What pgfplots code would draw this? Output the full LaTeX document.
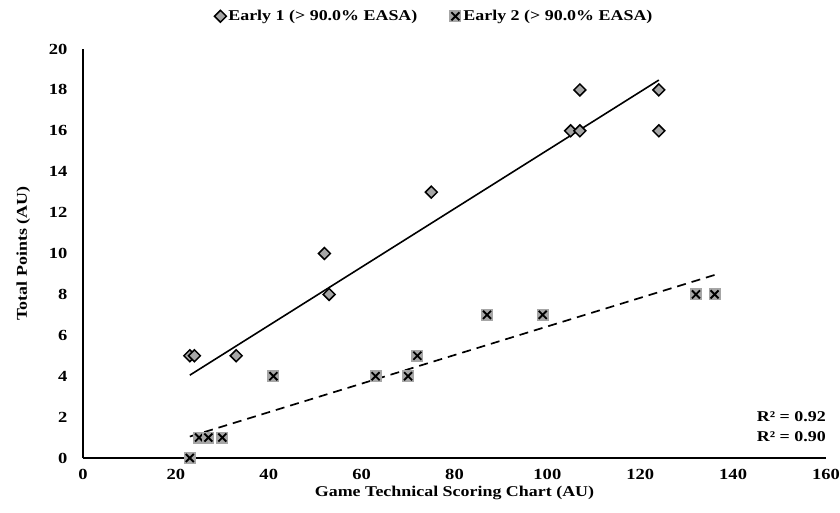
\documentclass[border=0pt]{standalone}
\usepackage{fontspec}
\setmainfont{Liberation Serif}[FakeStretch=1.2]
\usepackage{pgfplots}
\pgfplotsset{compat=1.18}
\usetikzlibrary{calc}
\definecolor{mygray}{HTML}{A6A6A6}
\pgfdeclareplotmark{sqx}{%
  \pgfpathrectangle{\pgfqpoint{-6bp}{-6bp}}{\pgfqpoint{12bp}{12bp}}%
  \pgfsetfillcolor{mygray}\pgfusepath{fill}%
  \pgfsetlinewidth{1.9bp}\pgfsetstrokecolor{black}%
  \pgfpathmoveto{\pgfqpoint{-4bp}{-4bp}}\pgfpathlineto{\pgfqpoint{4bp}{4bp}}%
  \pgfpathmoveto{\pgfqpoint{-4bp}{4bp}}\pgfpathlineto{\pgfqpoint{4bp}{-4bp}}%
  \pgfusepath{stroke}}
\begin{document}
\begin{tikzpicture}
\begin{axis}[
  scale only axis, width=743bp, height=409bp,
  xmin=0, xmax=160, ymin=0, ymax=20,
  xtick={0,20,...,160}, ytick={0,2,...,20},
  axis lines=left, axis line style={line width=1.4bp, -},
  major tick length=0pt,
  /pgf/number format/assume math mode=true,
  tick label style={font=\fontsize{15.5}{17}\selectfont\bfseries},
  yticklabel style={xshift=-12bp},
  xticklabel style={yshift=-8bp},
  label style={font=\fontsize{15}{17}\selectfont\bfseries},
  xlabel={Game Technical Scoring Chart (AU)},
  ylabel={Total Points (AU)},
  xlabel style={yshift=1bp},
  ylabel style={yshift=12bp},
  legend style={draw=none, at={(rel axis cs:0.473,1.08)}, anchor=center,
    font=\fontsize{15}{17}\selectfont\bfseries, legend columns=2},
  legend cell align=left,
  /tikz/every even column/.append style={column sep=30bp},
  clip=false,
]
\addplot[only marks, mark=square*, mark size=4.2bp,
  mark options={rotate=45, fill=mygray, draw=black, line width=1.5bp}]
  coordinates {(23,5) (24,5) (33,5) (52,10) (53,8) (75,13) (105,16) (107,16) (107,18) (124,18) (124,16)};
\addlegendentry{Early 1 (> 90.0\% EASA)}
\addplot[only marks, mark=sqx]
  coordinates {(23,0) (25,1) (27,1) (30,1) (41,4) (63,4) (70,4) (72,5) (87,7) (99,7) (132,8) (136,8)};
\addlegendentry{Early 2 (> 90.0\% EASA)}
\addplot[black, line width=1.6bp, forget plot] coordinates {(23,4.05) (124,18.48)};
\addplot[black, line width=1.7bp, dash pattern=on 9bp off 6bp, forget plot] coordinates {(23,1.05) (136,8.95)};
\node[anchor=east, font=\fontsize{15}{17}\selectfont\bfseries, inner sep=0pt] at (rel axis cs:1,0.101) {R² = 0.92};
\node[anchor=east, font=\fontsize{15}{17}\selectfont\bfseries, inner sep=0pt] at (rel axis cs:1,0.053) {R² = 0.90};
\end{axis}
\pgfresetboundingbox
\path[use as bounding box] ($(current axis.south west)+(-83bp,-55bp)$) rectangle ($(current axis.north east)+(14bp,49bp)$);
\end{tikzpicture}
\end{document}
